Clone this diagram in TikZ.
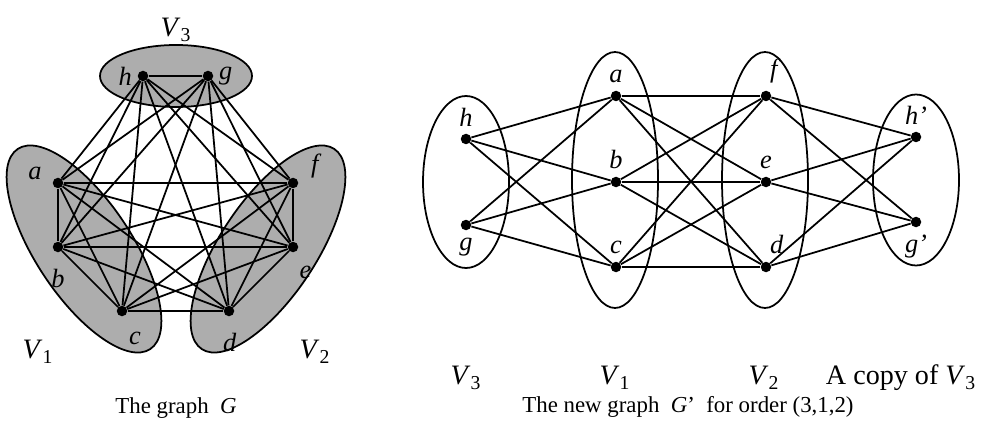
\documentclass[tikz,border=0pt]{standalone}
\usepackage{fontspec}
\setmainfont{Liberation Serif}
\usetikzlibrary{positioning}
\tikzset{
vtx/.style={circle,fill=black,inner sep=0pt,minimum size=0.21cm},
partbox/.style={draw=black,line width=1pt},
partshade/.style={partbox,fill=black!32},
edgeln/.style={line width=1pt},
setlbl/.style={font=\fontsize{16}{18}\selectfont},
captxt/.style={font=\fontsize{13}{15}\selectfont}
}
\newcommand{\partV}[1]{\textit{V}\textsubscript{#1}}

\begin{document}
\begin{tikzpicture}[every label/.style={font=\fontsize{15}{17}\selectfont\itshape,inner sep=1pt}]
\useasboundingbox (0,0) rectangle (19.72,8.54);
% the graph G: shaded parts
\draw[partshade] (3.52,7.02) ellipse [x radius=1.52,y radius=0.62];
\draw[partshade,rotate around={-56.5:(1.68,3.56)}] (1.68,3.56) ellipse [x radius=2.4,y radius=0.96];
\draw[partshade,rotate around={56.5:(5.36,3.56)}] (5.36,3.56) ellipse [x radius=2.4,y radius=0.96];
\node[vtx,label={[label distance=2pt]left:h}] (h) at (2.86,7.02) {};
\node[vtx,label={[label distance=2pt]right:g}] (g) at (4.16,7.02) {};
\node[vtx,label={[label distance=5pt]175:a}] (a) at (1.16,4.88) {};
\node[vtx,label={[label distance=8pt]below:b}] (b) at (1.16,3.60) {};
\node[vtx,label={[label distance=8pt]-75:c}] (c) at (2.44,2.32) {};
\node[vtx,label={[label distance=8pt]-88:d}] (d) at (4.58,2.32) {};
\node[vtx,label={[label distance=7pt]-75:e}] (e) at (5.86,3.60) {};
\node[vtx,label={[label distance=6pt]10:f}] (f) at (5.86,4.88) {};
\foreach \u [count=\i] in {h,g,a,b,c,d,e,f}
  \foreach \v [count=\j] in {h,g,a,b,c,d,e,f}
    {\ifnum\j>\i \draw[edgeln] (\u) -- (\v); \fi}
\node[setlbl] (V3G) at (3.52,7.94) {\partV{3}};
\node[setlbl] (V1G) at (0.76,1.50) {\partV{1}};
\node[setlbl] (V2G) at (6.30,1.50) {\partV{2}};
\node[captxt] (capG) at (3.52,0.38) {The graph \ \textit{G}};
% the new graph G'
\draw[partbox] (9.32,4.90) ellipse [x radius=0.86,y radius=1.72];
\draw[partbox] (12.30,4.94) ellipse [x radius=0.86,y radius=2.56];
\draw[partbox] (15.30,4.94) ellipse [x radius=0.86,y radius=2.56];
\draw[partbox] (18.32,4.94) ellipse [x radius=0.86,y radius=1.71];
\tikzset{every label/.append style={label distance=3pt}}
\node[vtx,label={above:h}] (nh) at (9.32,5.76) {};
\node[vtx,label={below:g}] (ng) at (9.32,4.04) {};
\node[vtx,label={above:a}] (na) at (12.32,6.62) {};
\node[vtx,label={above:b}] (nb) at (12.32,4.90) {};
\node[vtx,label={above:c}] (nc) at (12.32,3.20) {};
\node[vtx,label={80:f}] (nf) at (15.32,6.62) {};
\node[vtx,label={above:e}] (ne) at (15.32,4.90) {};
\node[vtx,label={80:d}] (nd) at (15.32,3.20) {};
\node[vtx,label={above:h’}] (nh2) at (18.32,5.80) {};
\node[vtx,label={below:g’}] (ng2) at (18.32,4.10) {};
\foreach \u in {nh,ng} \foreach \v in {na,nb,nc} \draw[edgeln] (\u) -- (\v);
\foreach \u in {na,nb,nc} \foreach \v in {nf,ne,nd} \draw[edgeln] (\u) -- (\v);
\foreach \u in {nf,ne,nd} \foreach \v in {nh2,ng2} \draw[edgeln] (\u) -- (\v);
\node[setlbl] (V3n) at (9.32,0.98) {\partV{3}};
\node[setlbl] (V1n) at (12.30,0.98) {\partV{1}};
\node[setlbl] (V2n) at (15.28,0.98) {\partV{2}};
\node[setlbl] (cpy) at (18.02,0.98) {A copy of \partV{3}};
\node[captxt] (capN) at (13.76,0.40) {The new graph \ \textit{G}’ \ for order (3,1,2)};
\end{tikzpicture}
\end{document}
